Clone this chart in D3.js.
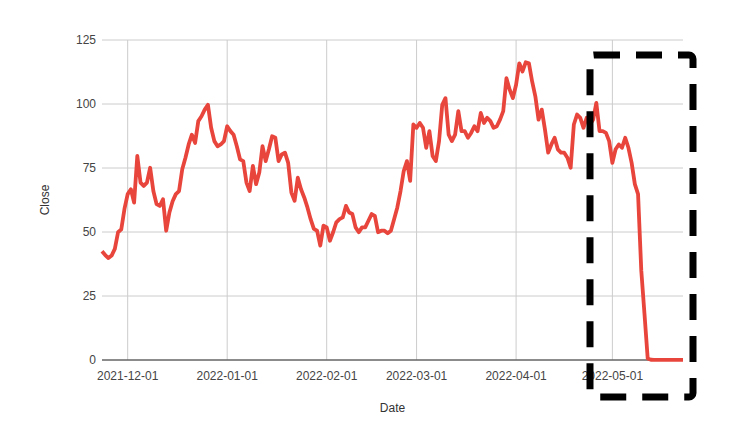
<!DOCTYPE html>
<html>
<head>
<meta charset="utf-8">
<script src="https://cdn.jsdelivr.net/npm/d3@7"></script>
<style>
  body { margin: 0; background: #fff; }
  text { font-family: Arial, "Liberation Sans", sans-serif; }
</style>
</head>
<body>
<div id="chart"></div>
<script>
// close values, one per day starting 2021-11-23
const startDate = "2021-11-23"
const endDate = "2022-05-23"
const closeValues = [
  42.5, 41, 39.8, 40.8, 43.4, 49.9, 51, 59,
  64.8, 66.7, 61.5, 79.7, 69.3, 68, 69.3, 75.1, 66, 60.9, 60.2, 62.8, 50.5, 57.6, 62, 64.8,
  66, 74.5, 79, 84.2, 88, 84.8, 93.3, 95.2, 97.8, 99.7, 90.7, 85.5, 83.5, 84.2, 85.5,
  91.3, 89.4, 88, 83.5, 78.4, 77.7, 69.3, 66, 75.8, 68.7, 73.2, 83.5, 77.7, 82.3, 87.4,
  86.8, 77.7, 80.3, 81, 77, 65.4, 62.2, 71.2, 66.7, 63.5, 59.6, 55, 51.2, 50.5, 44.7, 52.5,
  51.8, 46.6, 49.9, 53.8, 55, 55.7, 60.2, 57.6, 57, 51.8, 49.9, 51.8, 51.8, 54.4, 57,
  56.3, 49.9, 50.5, 50.5, 49.5, 50.5, 55, 59.6, 66, 73.8, 77.7, 70, 92,
  90.7, 92.6, 90.7, 82.9, 89.4, 79.7, 77.7, 85.5, 99.7, 102.3, 88, 85.5, 88, 97.2, 89.4,
  89.4, 86.8, 88.7, 91.3, 89.4, 96.5, 92.6, 94.6, 93.3, 90.7, 91.3, 93.9, 97.2, 110.1,
  105.6, 102.3,
  107.5, 115.9, 112.7, 116.3, 115.9, 108.8, 103, 93.9, 97.8, 90, 81, 84.2, 86.8, 82.3, 81,
  81, 79, 75.1, 92, 95.9, 94.6, 90.7, 94.6, 92, 93.9, 100.4, 89.4, 89.4, 88.7, 85.5,
  77, 82.3, 84.2, 82.9, 86.8, 82.9, 77, 68.7, 64.8, 35, 18, 0.6, 0.1, 0.05, 0.02, 0.01,
  0.01, 0.01, 0.01, 0.01, 0.01, 0.01, 0.01, 0.01, 0.01, 0.01, 0.01
]
const xTickLabels = ["2021-12-01", "2022-01-01", "2022-02-01", "2022-03-01", "2022-04-01", "2022-05-01"]
const yTickValues = [0, 25, 50, 75, 100, 125]

const parse = d3.timeParse("%Y-%m-%d")
const t0 = parse(startDate)
const t1 = parse(endDate)
const data = closeValues
  .map((v, i) => ({ date: d3.timeDay.offset(t0, i), close: v }))
  .filter(d => d.date <= t1)

const width = 740, height = 442
const margin = { top: 40, right: 57, bottom: 82, left: 102 }

const svg = d3.select("#chart").append("svg")
  .attr("width", width)
  .attr("height", height)

const x = d3.scaleTime()
  .domain([t0, t1])
  .range([margin.left, width - margin.right])

const y = d3.scaleLinear()
  .domain([0, 125])
  .range([height - margin.bottom, margin.top])

// horizontal gridlines + labels
svg.append("g")
  .selectAll("line")
  .data(yTickValues)
  .join("line")
  .attr("x1", margin.left).attr("x2", width - margin.right)
  .attr("y1", d => y(d)).attr("y2", d => y(d))
  .attr("stroke", "#ccc")

svg.append("g")
  .selectAll("text")
  .data(yTickValues)
  .join("text")
  .attr("x", margin.left - 6)
  .attr("y", d => y(d))
  .attr("dy", "0.35em")
  .attr("text-anchor", "end")
  .attr("font-size", 12)
  .attr("fill", "#444")
  .text(d => d)

// vertical gridlines at month starts
svg.append("g")
  .selectAll("line")
  .data(xTickLabels.map(parse))
  .join("line")
  .attr("x1", d => x(d)).attr("x2", d => x(d))
  .attr("y1", margin.top).attr("y2", y(0))
  .attr("stroke", "#ccc")

svg.append("g")
  .selectAll("text")
  .data(xTickLabels)
  .join("text")
  .attr("x", d => x(parse(d)))
  .attr("y", y(0) + 20)
  .attr("text-anchor", "middle")
  .attr("font-size", 12)
  .attr("fill", "#444")
  .text(d => d)

// axis titles
svg.append("text")
  .attr("x", (margin.left + width - margin.right) / 2)
  .attr("y", 412)
  .attr("text-anchor", "middle")
  .attr("font-size", 12)
  .attr("fill", "#333")
  .text("Date")

svg.append("text")
  .attr("transform", `translate(49, ${(margin.top + y(0)) / 2}) rotate(-90)`)
  .attr("text-anchor", "middle")
  .attr("font-size", 12)
  .attr("fill", "#333")
  .text("Close")

// baseline
svg.append("line")
  .attr("x1", margin.left).attr("x2", width - margin.right)
  .attr("y1", y(0)).attr("y2", y(0))
  .attr("stroke", "#333")

// price line
const line = d3.line()
  .x(d => x(d.date))
  .y(d => y(d.close))

svg.append("path")
  .datum(data)
  .attr("d", line)
  .attr("fill", "none")
  .attr("stroke", "#e8453c")
  .attr("stroke-width", 3.8)
  .attr("stroke-linejoin", "round")

// dashed highlight box (annotation)
svg.append("rect")
  .attr("x", 590).attr("y", 55)
  .attr("width", 103).attr("height", 342)
  .attr("rx", 4)
  .attr("fill", "none")
  .attr("stroke", "#000")
  .attr("stroke-width", 7)
  .attr("stroke-dasharray", "26,16")
</script>
</body>
</html>
